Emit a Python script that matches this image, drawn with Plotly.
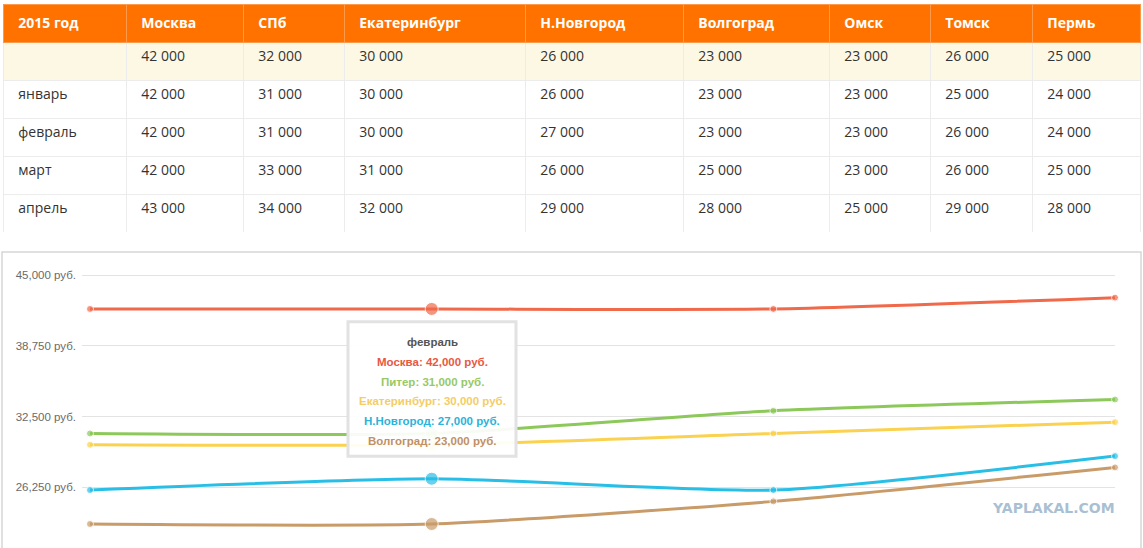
import plotly.graph_objects as go

# table data
columns = ["2015 год", "Москва", "СПб", "Екатеринбург", "Н.Новгород", "Волгоград", "Омск", "Томск", "Пермь"]
row_labels = ["", "январь", "февраль", "март", "апрель"]
moscow = [42000, 42000, 42000, 42000, 43000]
spb = [32000, 31000, 31000, 33000, 34000]
ekb = [30000, 30000, 30000, 31000, 32000]
nnov = [26000, 26000, 27000, 26000, 29000]
volgograd = [23000, 23000, 23000, 25000, 28000]
omsk = [23000, 23000, 23000, 23000, 25000]
tomsk = [26000, 25000, 26000, 26000, 29000]
perm = [25000, 24000, 24000, 25000, 28000]

# chart data (months only)
months = row_labels[1:]
chart_names = ["Москва", "Питер", "Екатеринбург", "Н.Новгород", "Волгоград"]
chart_values = [moscow[1:], spb[1:], ekb[1:], nnov[1:], volgograd[1:]]
line_colors = ["#F0694B", "#8CC85A", "#FAD250", "#29BEE6", "#C89B69"]
tip_colors = ["#E8583F", "#97C966", "#F4CD66", "#2BB3DA", "#BF9066"]
hover_month = "февраль"
y_ticks = [45000, 38750, 32500, 26250]

W, H = 1143, 548


def px(x):
    return x / W


def py(y):
    return 1 - y / H


def fmt_space(v):
    return f"{v:,}".replace(",", " ")


pad = "\u00a0\u00a0"
col_widths = [123, 117, 101, 181, 158, 146, 101, 102, 108]
table_cols = [moscow, spb, ekb, nnov, volgograd, omsk, tomsk, perm]
cell_values = [[pad + r for r in row_labels]] + [[pad + fmt_space(v) for v in c] for c in table_cols]
row_fill = ["#FDF8E4"] + ["#FFFFFF"] * (len(row_labels) - 1)

fig = go.Figure()

fig.add_trace(go.Table(
    domain=dict(x=[px(3), px(1140)], y=[py(231), py(3)]),
    columnwidth=col_widths,
    header=dict(
        values=[f"<b>{pad}{c}</b>" for c in columns],
        fill_color="#FF7200",
        line=dict(color="#FF9A4A", width=1),
        align="left",
        height=38,
        font=dict(family="Open Sans", size=14, color="white"),
    ),
    cells=dict(
        values=cell_values,
        fill=dict(color=[row_fill] * len(columns)),
        line=dict(color="#ECECEC", width=1),
        align="left",
        height=38,
        font=dict(family="Open Sans", size=14, color="#333333"),
    ),
))

hi = months.index(hover_month)
sizes = [13 if i == hi else 7 for i in range(len(months))]
for name, vals, col in zip(chart_names, chart_values, line_colors):
    fig.add_trace(go.Scatter(
        x=months, y=vals, name=name, mode="lines+markers",
        line=dict(color=col, width=3, shape="spline", smoothing=0.6),
        marker=dict(color=col, size=sizes),
        cliponaxis=False,
        xaxis="x", yaxis="y",
    ))

fig.update_layout(
    width=W, height=H,
    margin=dict(l=0, r=0, t=0, b=0),
    paper_bgcolor="white",
    plot_bgcolor="white",
    showlegend=False,
    xaxis=dict(
        domain=[px(82), px(1115)],
        range=[-0.0235, len(months) - 1],
        showticklabels=False, showgrid=False, zeroline=False,
    ),
    yaxis=dict(
        domain=[0, py(270)],
        range=[45000 - (548 - 274) * 6250 / 71, 45000 + 4 * 6250 / 71],
        tickvals=y_ticks,
        ticktext=[f"{v:,} руб." for v in y_ticks],
        tickfont=dict(family="Liberation Sans", size=11.5, color="#6A6A6A"),
        gridcolor="#E3E3E3",
        zeroline=False,
        ticks="",
        ticklabelstandoff=5,
    ),
)

# chart panel frame
fig.add_shape(type="rect", xref="paper", yref="paper",
              x0=px(2), x1=px(1141), y0=py(560), y1=py(251),
              line=dict(color="#D6D6D6", width=1.5), layer="below")

# tooltip box
fig.add_shape(type="rect", xref="paper", yref="paper",
              x0=px(348), x1=px(516), y0=py(456), y1=py(321),
              line=dict(color="#E2E2E2", width=3), fillcolor="rgba(255,255,255,0.93)")
fig.add_annotation(xref="paper", yref="paper", x=px(432), y=py(341), yanchor="middle",
                   text=f"<b>{hover_month}</b>", showarrow=False,
                   font=dict(family="Liberation Sans", size=11.5, color="#555555"))
for i, (name, vals, col) in enumerate(zip(chart_names, chart_values, tip_colors)):
    fig.add_annotation(xref="paper", yref="paper", x=px(432), y=py(361.5 + 19.7 * i),
                       yanchor="middle",
                       text=f"<b>{name}: {vals[hi]:,} руб.</b>", showarrow=False,
                       font=dict(family="Liberation Sans", size=11.5, color=col))

# watermark
fig.add_annotation(xref="paper", yref="paper", x=px(1117), y=py(518), xanchor="right",
                   text="<b>YAPLAKAL.COM</b>", showarrow=False,
                   font=dict(family="DejaVu Sans", size=14, weight="bold", color="#A9BFD3"))

fig.write_html("out.html", config={"displayModeBar": False},
               post_script="document.body.style.margin='0';")
